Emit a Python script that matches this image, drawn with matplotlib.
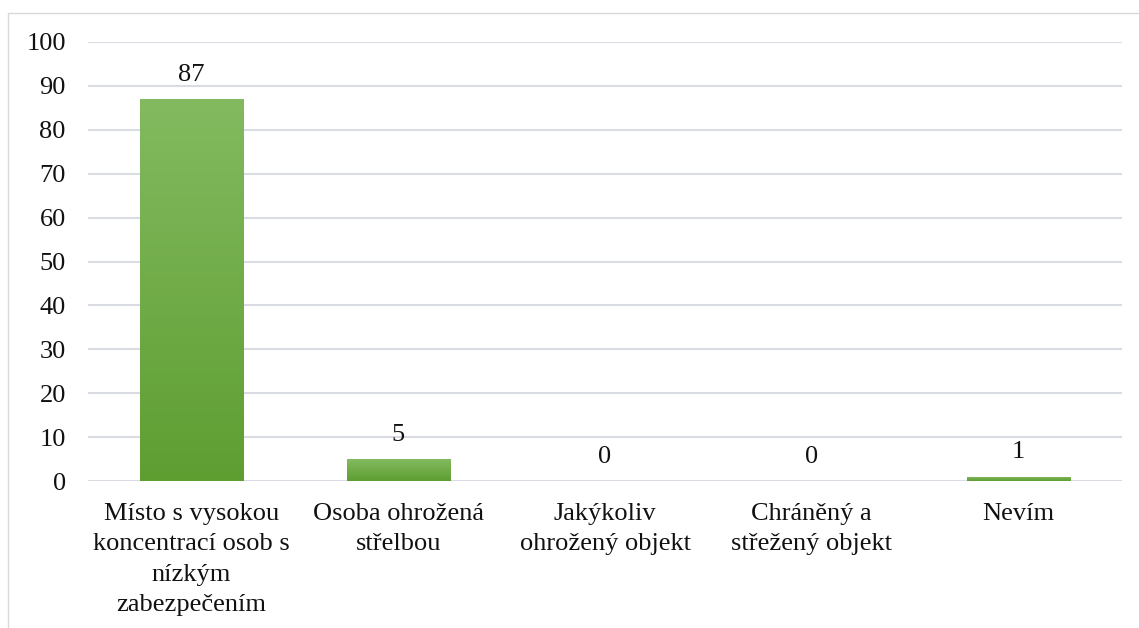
import numpy as np
import matplotlib.pyplot as plt
from matplotlib.patches import Rectangle
from matplotlib.colors import LinearSegmentedColormap

# answers and counts
categories = [
    "Místo s vysokou\nkoncentrací osob s\nnízkým\nzabezpečením",
    "Osoba ohrožená\nstřelbou",
    "Jakýkoliv\nohrožený objekt",
    "Chráněný a\nstřežený objekt",
    "Nevím",
]
counts = [87, 5, 0, 0, 1]
y_ticks = [0, 10, 20, 30, 40, 50, 60, 70, 80, 90, 100]

plt.rcParams["font.family"] = ["Liberation Serif", "DejaVu Serif"]
plt.rcParams["font.size"] = 19

fig = plt.figure(figsize=(11.39, 6.28), dpi=100)
ax = fig.add_axes([88 / 1139, 1 - 481 / 628, (1122 - 88) / 1139, (481 - 42) / 628])

x = np.arange(len(categories))
bars = ax.bar(x, counts, width=0.5, color="none", zorder=3)

# vertical gradient fill, lighter at top
grad = np.linspace(0, 1, 256).reshape(-1, 1)
cmap = LinearSegmentedColormap.from_list("g", ["#5E9E31", "#83BA60"])
for b in bars:
    if b.get_height() <= 0:
        continue
    im = ax.imshow(grad, cmap=cmap, aspect="auto", origin="lower",
                   extent=[b.get_x(), b.get_x() + b.get_width(), 0, b.get_height()],
                   zorder=3)
    im.set_clip_path(b)

for xi, v in zip(x, counts):
    ax.text(xi, v + 3.0, str(v), ha="center", va="bottom", fontsize=19, color="#111111")

ax.set_xlim(-0.5, len(categories) - 0.5)
ax.set_ylim(0, 100)
ax.set_yticks(y_ticks)
ax.set_xticks(x)
ax.set_xticklabels(categories, linespacing=1.48)
ax.tick_params(axis="both", length=0, colors="#111111", labelsize=19)
ax.tick_params(axis="y", pad=16)
ax.tick_params(axis="x", pad=16)
ax.grid(axis="y", color="#D9DDE3", linewidth=1.5, zorder=0)
for s in ax.spines.values():
    s.set_visible(False)

# outer chart border
fig.patches.append(Rectangle((8 / 1139, -0.1), 1.2, 1 - 13 / 628 + 0.1,
                             transform=fig.transFigure, fill=False,
                             edgecolor="#D9D9D9", linewidth=1.0))

fig.savefig("out.png", dpi=100)
